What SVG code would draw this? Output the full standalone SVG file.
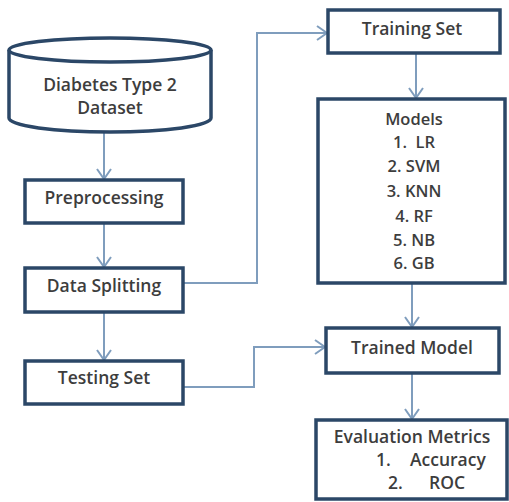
<svg xmlns="http://www.w3.org/2000/svg" width="509" height="502" viewBox="0 0 509 502">
  <style>
    .box { fill: #ffffff; stroke: #2b4767; stroke-width: 3.5; }
    .lbl { font-family: "Open Sans", "Noto Sans", "Liberation Sans", sans-serif; font-size: 17.5px; font-weight: 600; fill: #3d3d3d; text-anchor: middle; }
    .lbl2 { font-family: "Open Sans", "Noto Sans", "Liberation Sans", sans-serif; font-size: 16.5px; font-weight: 600; fill: #3d3d3d; text-anchor: middle; }
    .conn { fill: none; stroke: #7f9dbd; stroke-width: 2; marker-end: url(#arr); }
  </style>
  <defs>
    <marker id="arr" viewBox="0 0 12 16" refX="11" refY="8" markerWidth="12" markerHeight="16" markerUnits="userSpaceOnUse" orient="auto">
      <path d="M1 1 L11 8 L1 15" fill="none" stroke="#7f9dbd" stroke-width="2"/>
    </marker>
  </defs>
  <rect width="509" height="502" fill="#ffffff"/>

  <g id="connectors">
    <path class="conn" d="M104 132 V179"/>
    <path class="conn" d="M104 223 V267"/>
    <path class="conn" d="M104 312 V360"/>
    <path class="conn" d="M183 283 H257 V33 H327"/>
    <path class="conn" d="M183 387 H254 V347 H325"/>
    <path class="conn" d="M416 53 V98"/>
    <path class="conn" d="M412 283 V327"/>
    <path class="conn" d="M412 373 V419"/>
  </g>

  <g id="dataset">
    <path class="box" d="M9 50 V118 A101 14 0 0 0 211 118 V50"/>
    <ellipse class="box" cx="110" cy="50" rx="101" ry="12"/>
    <text class="lbl" x="110" y="91">Diabetes Type 2</text>
    <text class="lbl" x="110" y="114">Dataset</text>
  </g>

  <g id="preprocessing">
    <rect class="box" x="25" y="180" width="158" height="43"/>
    <text class="lbl" x="104" y="204">Preprocessing</text>
  </g>

  <g id="data-splitting">
    <rect class="box" x="25" y="268" width="158" height="44"/>
    <text class="lbl" x="104" y="292">Data Splitting</text>
  </g>

  <g id="testing-set">
    <rect class="box" x="25" y="361" width="158" height="43"/>
    <text class="lbl" x="104" y="384">Testing Set</text>
  </g>

  <g id="training-set">
    <rect class="box" x="328" y="10" width="172" height="43"/>
    <text class="lbl" x="412" y="35">Training Set</text>
  </g>

  <g id="models">
    <rect class="box" x="318" y="99" width="187" height="184"/>
    <text class="lbl2" x="414" y="125">Models</text>
    <text class="lbl2" x="414" y="148" xml:space="preserve">1.  LR</text>
    <text class="lbl2" x="414" y="172">2. SVM</text>
    <text class="lbl2" x="414" y="197">3. KNN</text>
    <text class="lbl2" x="414" y="222">4. RF</text>
    <text class="lbl2" x="414" y="246">5. NB</text>
    <text class="lbl2" x="414" y="269">6. GB</text>
  </g>

  <g id="trained-model">
    <rect class="box" x="326" y="328" width="173" height="45"/>
    <text class="lbl" x="412" y="354">Trained Model</text>
  </g>

  <g id="evaluation">
    <rect class="box" x="316" y="420" width="191" height="79"/>
    <text class="lbl" x="412" y="443">Evaluation Metrics</text>
    <text class="lbl" style="text-anchor:start" y="466"><tspan x="376">1.</tspan><tspan x="410">Accuracy</tspan></text>
    <text class="lbl" style="text-anchor:start" y="489"><tspan x="388">2.</tspan><tspan x="429">ROC</tspan></text>
  </g>
</svg>
